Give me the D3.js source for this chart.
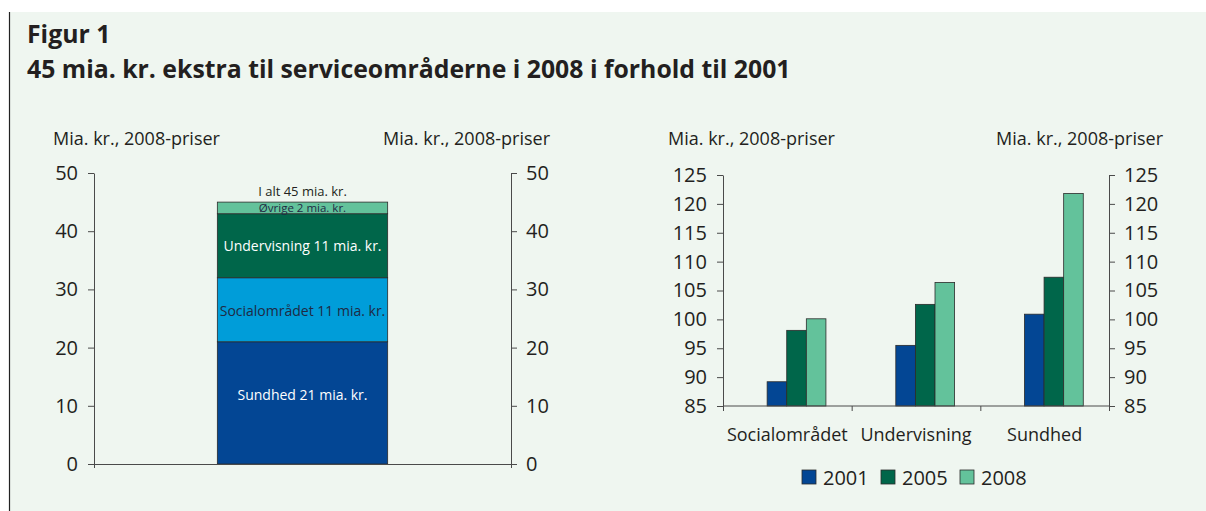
<!DOCTYPE html>
<html>
<head>
<meta charset="utf-8">
<script src="https://cdn.jsdelivr.net/npm/d3@7"></script>
<style>
  body { margin: 0; background: #fff; }
  svg { display: block; font-family: "Open Sans", "Noto Sans", sans-serif; }
</style>
</head>
<body>
<div id="chart"></div>
<script>
// stacked bar (left)
var stackParts = ["Sundhed", "Socialområdet", "Undervisning", "Øvrige"];
var stackValues = [21, 11, 11, 2];
var stackLabels = ["Sundhed 21 mia. kr.", "Socialområdet 11 mia. kr.", "Undervisning 11 mia. kr.", "Øvrige 2 mia. kr."];
var stackTotalLabel = "I alt 45 mia. kr.";
var leftTicks = [0, 10, 20, 30, 40, 50];

// grouped bars (right)
var categories = ["Socialområdet", "Undervisning", "Sundhed"];
var years = ["2001", "2005", "2008"];
var values2001 = [89.2, 95.5, 100.9];
var values2005 = [98.1, 102.6, 107.3];
var values2008 = [100.1, 106.4, 121.8];
var rightTicks = [85, 90, 95, 100, 105, 110, 115, 120, 125];

var unitLabel = "Mia. kr., 2008-priser";

var W = 1206, H = 511;
var ink = "#231f20";
var axisCol = "#4a4a4a";

var svg = d3.select("#chart").append("svg")
    .attr("width", W).attr("height", H);

// background panel
svg.append("rect").attr("x", 9).attr("y", 12).attr("width", W - 9).attr("height", H - 12)
    .attr("fill", "#eff6f0");
svg.append("line").attr("x1", 9.5).attr("x2", 9.5).attr("y1", 12).attr("y2", H)
    .attr("stroke", "#222").attr("stroke-width", 1.2);

svg.append("text").attr("x", 27).attr("y", 43).text("Figur 1")
    .attr("font-size", 24.8).attr("font-weight", "bold").attr("fill", ink);
svg.append("text").attr("x", 27).attr("y", 78)
    .text("45 mia. kr. ekstra til serviceområderne i 2008 i forhold til 2001")
    .attr("font-size", 24.8).attr("font-weight", "bold").attr("fill", ink);

// ---------- left chart
var L = { x0: 94, x1: 511, y0: 464, y1: 173 };
var yL = d3.scaleLinear().domain([0, 50]).range([L.y0, L.y1]);
var xL = d3.scaleBand().domain(["total"]).range([L.x0, L.x1]).padding(0.42);

var stackColors = ["#034694", "#009dd9", "#00664a", "#63c29b"];
var rows = [{}];
stackParts.forEach(function (p, i) { rows[0][p] = stackValues[i]; });
var series = d3.stack().keys(stackParts)(rows);

var gl = svg.append("g");
gl.selectAll("rect.seg").data(series).enter().append("rect")
    .attr("class", "seg")
    .attr("x", xL("total"))
    .attr("width", xL.bandwidth())
    .attr("y", function (d) { return yL(d[0][1]); })
    .attr("height", function (d) { return yL(d[0][0]) - yL(d[0][1]); })
    .attr("fill", function (d, i) { return stackColors[i]; })
    .attr("stroke", "#2b2b2b").attr("stroke-width", 0.8);

var labelColors = ["#fff", "#1f2a44", "#fff", "#1f2a44"];
var labelShift = [-8, 1, 0, 0];
gl.selectAll("text.seglab").data(series).enter().append("text")
    .attr("class", "seglab")
    .attr("x", xL("total") + xL.bandwidth() / 2)
    .attr("y", function (d, i) { return (yL(d[0][0]) + yL(d[0][1])) / 2 + labelShift[i]; })
    .attr("dy", "0.35em")
    .attr("text-anchor", "middle")
    .attr("font-size", function (d, i) { return i === 3 ? 11.5 : 14; })
    .attr("fill", function (d, i) { return labelColors[i]; })
    .text(function (d, i) { return stackLabels[i]; });

gl.append("text")
    .attr("x", xL("total") + xL.bandwidth() / 2)
    .attr("y", yL(45) - 6)
    .attr("text-anchor", "middle").attr("font-size", 13).attr("fill", ink)
    .text(stackTotalLabel);

function styleAxis(g) {
    g.selectAll("path, line").attr("stroke", axisCol).attr("stroke-width", 1);
    g.selectAll("text").attr("fill", ink).attr("font-size", 20)
        .attr("font-family", "'Open Sans', 'Noto Sans', sans-serif");
}

gl.append("g").attr("transform", "translate(" + L.x0 + ",0)")
    .call(d3.axisLeft(yL).tickValues(leftTicks).tickSize(6).tickPadding(10).tickSizeOuter(0))
    .call(styleAxis);
gl.append("g").attr("transform", "translate(" + L.x1 + ",0)")
    .call(d3.axisRight(yL).tickValues(leftTicks).tickSize(6).tickPadding(9).tickSizeOuter(0))
    .call(styleAxis);
gl.append("g").attr("transform", "translate(0," + L.y0 + ")")
    .call(d3.axisBottom(d3.scaleLinear().domain([0, 1]).range([L.x0, L.x1]))
        .tickValues([0, 1]).tickSize(4).tickSizeOuter(0).tickFormat(""))
    .call(styleAxis);

svg.append("text").attr("x", 53).attr("y", 145).attr("font-size", 18).attr("fill", ink).text(unitLabel);
svg.append("text").attr("x", 550).attr("y", 145).attr("text-anchor", "end")
    .attr("font-size", 18).attr("fill", ink).text(unitLabel);

// ---------- right chart
var R = { x0: 723, x1: 1109, y0: 406, y1: 175 };
var yR = d3.scaleLinear().domain([85, 125]).range([R.y0, R.y1]);
var x0 = d3.scaleBand().domain(categories).range([R.x0, R.x1]);
var x1 = d3.scaleBand().domain(years)
    .range([x0.bandwidth() * 0.343, x0.bandwidth() * 0.80]);
var yearColors = ["#034694", "#00664a", "#63c29b"];
var yearValues = [values2001, values2005, values2008];

var gr = svg.append("g");
var groups = gr.selectAll("g.cat").data(categories).enter().append("g")
    .attr("class", "cat")
    .attr("transform", function (c) { return "translate(" + x0(c) + ",0)"; });
groups.selectAll("rect").data(function (c, ci) {
    return years.map(function (yr, yi) { return { year: yr, yi: yi, v: yearValues[yi][ci] }; });
}).enter().append("rect")
    .attr("x", function (d) { return x1(d.year); })
    .attr("width", x1.bandwidth())
    .attr("y", function (d) { return yR(d.v); })
    .attr("height", function (d) { return yR(85) - yR(d.v); })
    .attr("fill", function (d) { return yearColors[d.yi]; })
    .attr("stroke", "#2b2b2b").attr("stroke-width", 0.8);

gr.append("g").attr("transform", "translate(" + R.x0 + ",0)")
    .call(d3.axisLeft(yR).tickValues(rightTicks).tickSize(6).tickPadding(10).tickSizeOuter(0))
    .call(styleAxis);
gr.append("g").attr("transform", "translate(" + R.x1 + ",0)")
    .call(d3.axisRight(yR).tickValues(rightTicks).tickSize(6).tickPadding(9).tickSizeOuter(0))
    .call(styleAxis);

// category boundaries
var bounds = categories.map(function (c) { return x0(c); }).concat([R.x1]);
gr.append("g").attr("transform", "translate(0," + R.y0 + ")")
    .call(d3.axisBottom(d3.scaleIdentity()).tickValues(bounds).tickSize(5).tickSizeOuter(0).tickFormat(""))
    .call(function (g) { g.select(".domain").attr("d", "M" + R.x0 + ",0H" + R.x1); })
    .call(styleAxis);

gr.selectAll("text.catlab").data(categories).enter().append("text")
    .attr("class", "catlab")
    .attr("x", function (c) { return x0(c) + x0.bandwidth() / 2; })
    .attr("y", 441)
    .attr("text-anchor", "middle").attr("font-size", 18).attr("fill", ink)
    .text(function (c) { return c; });

svg.append("text").attr("x", 668).attr("y", 145).attr("font-size", 18).attr("fill", ink).text(unitLabel);
svg.append("text").attr("x", 1163).attr("y", 145).attr("text-anchor", "end")
    .attr("font-size", 18).attr("fill", ink).text(unitLabel);

// legend
var legendX = [802, 881, 960];
var lg = svg.append("g");
years.forEach(function (yr, i) {
    lg.append("rect").attr("x", legendX[i]).attr("y", 470).attr("width", 14).attr("height", 14)
        .attr("fill", yearColors[i]).attr("stroke", "#2b2b2b").attr("stroke-width", 0.8);
    lg.append("text").attr("x", legendX[i] + 21).attr("y", 485)
        .attr("font-size", 20).attr("fill", ink).text(yr);
});
</script>
</body>
</html>
